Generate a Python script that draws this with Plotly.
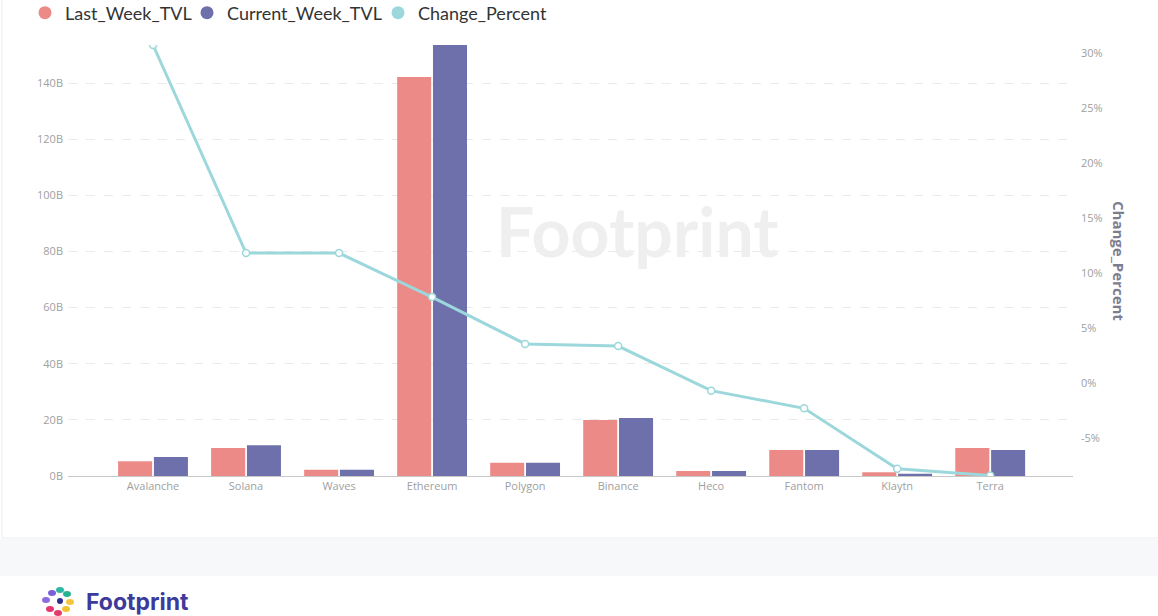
import plotly.graph_objects as go

categories = ["Avalanche", "Solana", "Waves", "Ethereum", "Polygon",
              "Binance", "Heco", "Fantom", "Klaytn", "Terra"]
last_week_tvl = [5.3, 10.0, 2.2, 142.2, 4.7, 20.0, 1.8, 9.3, 1.3, 10.0]      # billions
current_week_tvl = [6.8, 11.0, 2.2, 153.6, 4.7, 20.7, 1.8, 9.3, 0.8, 9.3]    # billions
change_percent = [30.7, 11.8, 11.8, 7.8, 3.55, 3.35, -0.7, -2.3, -7.8, -8.4]

left_ticks = [0, 20, 40, 60, 80, 100, 120, 140]
left_tick_text = ["0B", "20B", "40B", "60B", "80B", "100B", "120B", "140B"]
right_ticks = [-5, 0, 5, 10, 15, 20, 25, 30]
right_tick_text = ["-5%", "0%", "5%", "10%", "15%", "20%", "25%", "30%"]

C_LAST = "#EC8A88"
C_CUR = "#6E70AB"
C_LINE = "#9CD8DB"

W, H = 1158, 616
L, R, T, B = 68, 85, 45, 140
PW, PH = W - L - R, H - T - B

def px(x):
    return (x - L) / PW

def py(y):
    return (H - B - y) / PH

fig = go.Figure()
fig.add_trace(go.Bar(x=categories, y=last_week_tvl, name="Last_Week_TVL",
                     marker=dict(color=C_LAST, line=dict(width=0)), showlegend=False))
fig.add_trace(go.Bar(x=categories, y=current_week_tvl, name="Current_Week_TVL",
                     marker=dict(color=C_CUR, line=dict(width=0)), showlegend=False))
fig.add_trace(go.Scatter(x=categories, y=change_percent, name="Change_Percent", yaxis="y2",
                         mode="lines+markers", line=dict(color=C_LINE, width=3),
                         marker=dict(size=7, color="white", line=dict(color=C_LINE, width=1.5)),
                         showlegend=False))
# legend entries with circle symbols, each in its own legend for exact placement
legend_items = [("Last_Week_TVL", C_LAST, "legend", 25),
                ("Current_Week_TVL", C_CUR, "legend2", 187),
                ("Change_Percent", C_LINE, "legend3", 378)]
for nm, col, lg, _ in legend_items:
    fig.add_trace(go.Scatter(x=[None], y=[None], mode="markers", name=nm, legend=lg,
                             marker=dict(size=13, color=col, symbol="circle")))

shapes = [
    dict(type="rect", xref="paper", yref="paper", x0=px(2), x1=px(1162), y0=py(538), y1=py(-10),
         line=dict(color="#ECEDF0", width=1), fillcolor="rgba(0,0,0,0)", layer="below"),
    dict(type="rect", xref="paper", yref="paper", x0=px(-5), x1=px(1165), y0=py(576), y1=py(539),
         line=dict(width=0), fillcolor="#F7F8FA", layer="below"),
]
logo_dots = [(46, 600, "#8C6BE0"), (52, 593, "#7B5FD6"), (60, 590, "#2EB7A4"), (67, 594, "#27B38F"),
             (70, 602, "#F5C542"), (66, 609, "#F2C230"), (50, 609, "#E8356E"), (58, 613, "#E23C6A")]
for (x, y, c) in logo_dots:
    shapes.append(dict(type="circle", xref="paper", yref="paper", x0=px(x - 4), x1=px(x + 4),
                       y0=py(y + 3), y1=py(y - 3), line=dict(width=0), fillcolor=c))
shapes.append(dict(type="circle", xref="paper", yref="paper", x0=px(57), x1=px(63),
                   y0=py(604), y1=py(598), line=dict(width=0), fillcolor="#2B2F8F"))

annotations = [
    dict(text="Footprint", xref="paper", yref="paper", x=px(637), y=py(230), showarrow=False,
         font=dict(family="Lato", size=68, color="#EFEFEF", weight="bold"), xanchor="center", yanchor="middle"),
    dict(text="Change_Percent", xref="paper", yref="paper", x=px(1119), y=py(261), showarrow=False,
         textangle=90, font=dict(family="Open Sans", size=15, color="#7C7D8F", weight="bold"),
         xanchor="center", yanchor="middle"),
    dict(text="Footprint", xref="paper", yref="paper", x=px(84), y=py(602), showarrow=False,
         font=dict(family="Inter", size=23, color="#3C3A9B", weight="bold"), xanchor="left", yanchor="middle"),
]

legend_common = dict(orientation="h", yanchor="middle", xanchor="left", y=py(13),
                     font=dict(family="Lato", size=18, color="#333333"), itemwidth=30,
                     bgcolor="rgba(0,0,0,0)")

fig.update_layout(
    width=W, height=H,
    margin=dict(l=L, r=R, t=T, b=B, autoexpand=False),
    paper_bgcolor="white", plot_bgcolor="white",
    barmode="group", bargap=0.23, bargroupgap=0.05,
    font=dict(family="Open Sans", color="#A0A0A0", size=11),
    legend=dict(legend_common, x=px(legend_items[0][3])),
    legend2=dict(legend_common, x=px(legend_items[1][3])),
    legend3=dict(legend_common, x=px(legend_items[2][3])),
    xaxis=dict(range=[-0.914, 9.89], showgrid=False, showline=True, linecolor="#C8C8C8",
               linewidth=1, ticks="", tickfont=dict(size=11, color="#A0A0A0"), zeroline=False),
    yaxis=dict(range=[0, 153.6], tickvals=left_ticks, ticktext=left_tick_text, showgrid=True,
               gridcolor="#EAEAEA", griddash="dash", zeroline=False, showline=False,
               tickfont=dict(size=11, color="#A0A0A0"), ticklabelstandoff=4),
    yaxis2=dict(range=[-8.45, 30.7], overlaying="y", side="right", tickvals=right_ticks,
                ticktext=right_tick_text, showgrid=False, zeroline=False, showline=False,
                tickfont=dict(size=11, color="#A0A0A0"), ticklabelstandoff=7),
    shapes=shapes, annotations=annotations,
    hovermode=False,
)

fig.write_html("out.html", config={"displayModeBar": False},
               post_script="document.body.style.margin='0';")
